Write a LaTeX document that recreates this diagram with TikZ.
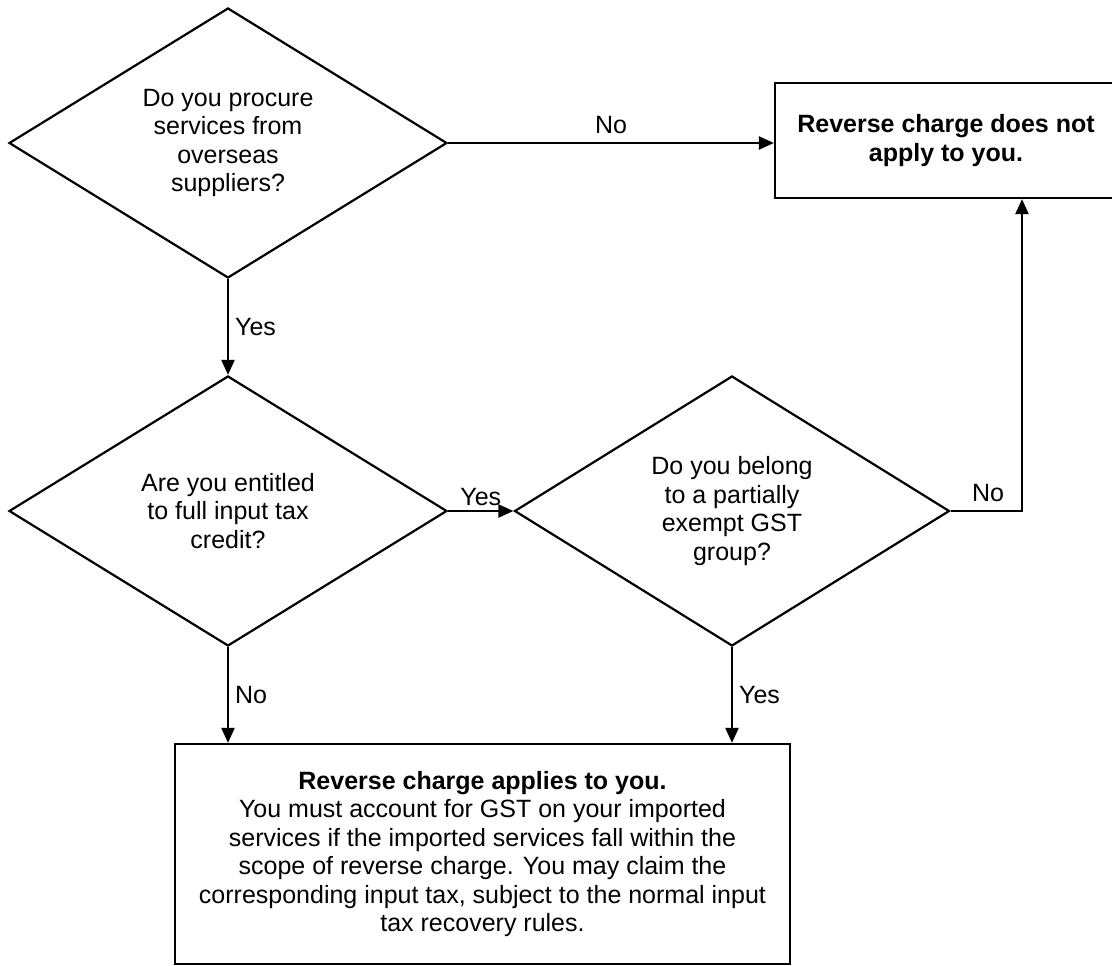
\documentclass[tikz,border=0pt]{standalone}
\usepackage{fontspec}
\setmainfont{Liberation Sans}
\usetikzlibrary{positioning,shapes.geometric,arrows.meta}

\begin{document}
\begin{tikzpicture}
    [x=1pt, y=-1pt, line width=2.2pt,
      every node/.style={align=center, font=\fontsize{25}{28.5}\selectfont},
      question/.style={diamond, draw, aspect=1.6, inner sep=0pt,
        minimum width=438pt, minimum height=270pt},
      outcome/.style={rectangle, draw, inner sep=0pt},
      flow/.style={-{Triangle[length=15pt,width=13pt]}},
      answer/.style={inner sep=2pt}]

    \useasboundingbox (0,0) rectangle (1112,966);

    \node (overseas) [question] at (228,143)
    {Do you procure\\
      services from\\
      overseas\\
      suppliers?
    };
    \node (entitled) [question] at (228,511)
    {Are you entitled\\
      to full input tax\\
      credit?
    };
    \node (exempt) [question, minimum width=435pt] at (732,511)
    {Do you belong\\
      to a partially\\
      exempt GST\\
      group?
    };
    \node (noapply) [outcome, minimum width=342pt, minimum height=115pt]
      at (946,140.5)
    {\textbf{Reverse charge does not}\\
      \textbf{apply to you.}
    };
    \node (applies) [outcome, minimum width=615pt, minimum height=220pt]
      at (482.5,854)
    {\textbf{Reverse charge applies to you.}\\
      You must account for GST on your imported\\
      services if the imported services fall within the\\
      scope of reverse charge. You may claim the\\
      corresponding input tax, subject to the normal input\\
      tax recovery rules.
    };
    \coordinate (bend) at (1022,511);

    \draw[flow] (overseas.east) -- (overseas.east -| noapply.west)
      node[answer, midway, above=6pt] {No};
    \draw[flow] (overseas.south) -- (entitled.north)
      node[answer, midway, right=4pt] {Yes};
    \draw[flow] (entitled.east) -- (exempt.west)
      node[answer, midway, above=2pt] {Yes};
    \draw[flow] (exempt.east) -- (bend) -- (bend |- noapply.south);
    \node[answer] at (988,493) {No};
    \draw[flow] (entitled.south) -- (entitled.south |- applies.north)
      node[answer, midway, right=4pt] {No};
    \draw[flow] (exempt.south) -- (exempt.south |- applies.north)
      node[answer, midway, right=4pt] {Yes};
  \end{tikzpicture}
\end{document}
